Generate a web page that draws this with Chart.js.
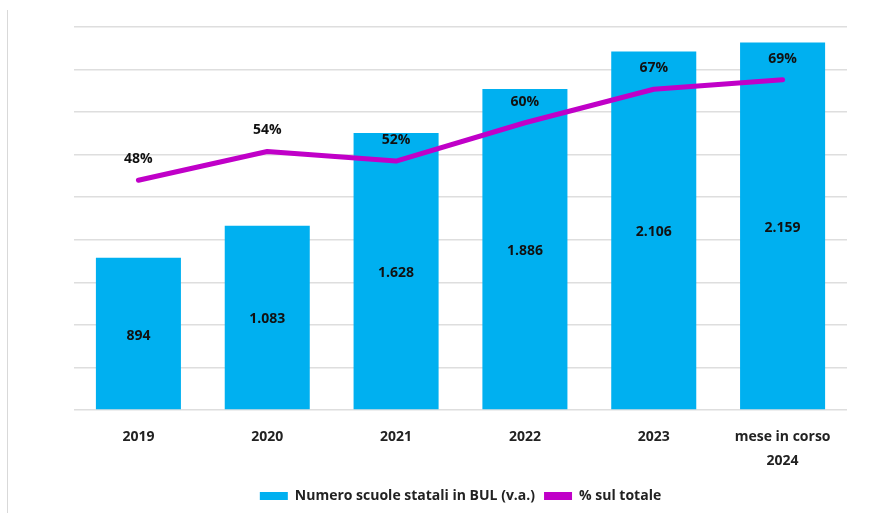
<!DOCTYPE html>
<html lang="it">
<head>
<meta charset="UTF-8">
<title>Scuole statali in BUL</title>
<script src="https://cdn.jsdelivr.net/npm/chart.js@4.4.1/dist/chart.umd.min.js"></script>
<style>
  html, body { margin: 0; padding: 0; background: #fff; }
  #wrap { position: relative; width: 888px; height: 513px; }
  #edge { position: absolute; left: 7px; top: 10px; bottom: 0; border-left: 1px solid #d9d9d9; }
</style>
</head>
<body>
<div id="wrap">
  <div id="edge"></div>
  <canvas id="chart" width="888" height="513"></canvas>
</div>
<script>
const categories = ['2019', '2020', '2021', '2022', '2023', ['mese in corso', '2024']];
const schools = [894, 1083, 1628, 1886, 2106, 2159];
const shareOfTotal = [48, 54, 52, 60, 67, 69];

const FONT = "'Open Sans', 'DejaVu Sans', sans-serif";

// italian thousand separator
function fmt(n) {
    return String(n).replace(/\B(?=(\d{3})+(?!\d))/g, '.');
}

const valueLabels = {
    id: 'valueLabels',
    afterDatasetsDraw(chart) {
        const ctx = chart.ctx;
        ctx.save();
        ctx.fillStyle = '#111';
        ctx.font = '700 14px ' + FONT;
        ctx.textAlign = 'center';
        ctx.textBaseline = 'middle';
        chart.getDatasetMeta(0).data.forEach((bar, i) => {
            ctx.fillText(fmt(schools[i]), bar.x, (bar.y + bar.base) / 2 + 2);
        });
        chart.getDatasetMeta(1).data.forEach((pt, i) => {
            ctx.fillText(shareOfTotal[i] + '%', pt.x, pt.y - 21);
        });
        ctx.restore();
    }
};

new Chart(document.getElementById('chart'), {
    data: {
        labels: categories,
        datasets: [{
            type: 'bar',
            label: 'Numero scuole statali in BUL (v.a.)',
            data: schools,
            backgroundColor: '#00b0f0',
            barPercentage: 0.66,
            categoryPercentage: 1,
            yAxisID: 'y',
            order: 1
        }, {
            type: 'line',
            label: '% sul totale',
            data: shareOfTotal,
            borderColor: '#c000c8',
            backgroundColor: '#c000c8',
            borderWidth: 5,
            borderCapStyle: 'round',
            borderJoinStyle: 'round',
            pointRadius: 0,
            tension: 0,
            yAxisID: 'y1',
            order: 0
        }]
    },
    options: {
        responsive: false,
        animation: false,
        layout: { padding: { left: 74, right: 41, top: 27, bottom: 0 } },
        scales: {
            x: {
                grid: { display: false },
                border: { display: false },
                ticks: {
                    color: '#222',
                    font: { family: FONT, size: 14, weight: '700', lineHeight: 1.75 },
                    padding: 6.5,
                    maxRotation: 0
                }
            },
            y: {
                min: 0, max: 2250,
                ticks: { display: false, stepSize: 250 },
                border: { display: false },
                grid: { color: '#dedede', lineWidth: 1.5, drawTicks: false }
            },
            y1: {
                min: 0, max: 80,
                display: false
            }
        },
        plugins: {
            tooltip: { enabled: false },
            legend: {
                position: 'bottom',
                labels: {
                    color: '#222',
                    font: { family: FONT, size: 14, weight: '700' },
                    boxWidth: 28,
                    boxHeight: 8,
                    padding: 9,
                    generateLabels(chart) {
                        return chart.data.datasets.map((ds, i) => ({
                            text: ds.label,
                            fillStyle: ds.backgroundColor,
                            strokeStyle: ds.backgroundColor,
                            lineWidth: 0,
                            fontColor: '#222',
                            datasetIndex: i
                        }));
                    }
                }
            }
        }
    },
    plugins: [valueLabels]
});
</script>
</body>
</html>
